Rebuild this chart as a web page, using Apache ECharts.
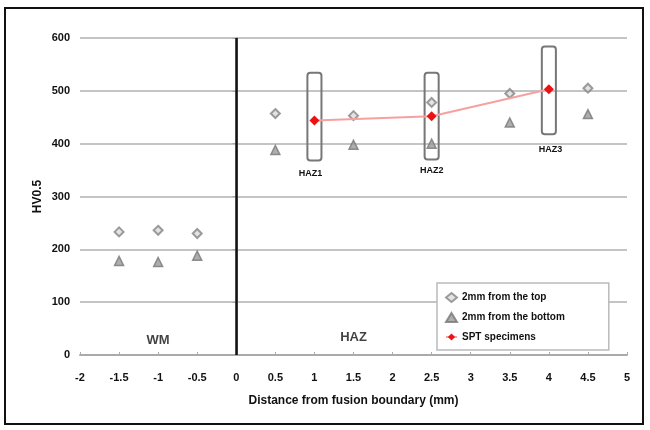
<!DOCTYPE html>
<html><head><meta charset="utf-8">
<script src="https://cdn.jsdelivr.net/npm/echarts@6/dist/echarts.min.js"></script>
<style>html,body{margin:0;padding:0;background:#fff}#c{width:650px;height:430px}</style>
</head><body><div id="c"></div>
<script>
var topX = [-1.5, -1, -0.5, 0.5, 1.5, 2.5, 3.5, 4.5];
var topY = [233, 236, 230, 457, 453, 478, 495, 505];
var botX = [-1.5, -1, -0.5, 0.5, 1.5, 2.5, 3.5, 4.5];
var botY = [178, 176, 188, 388, 398, 400, 440, 456];
var sptX = [1, 2.5, 4];
var sptY = [444, 452, 503];
var boxX = [1, 2.5, 4];
var boxLow = [368, 370, 418];
var boxHigh = [534, 534, 584];
var boxNames = ['HAZ1', 'HAZ2', 'HAZ3'];
var boxLabelX = [0.95, 2.5, 4.02];
var boxLabelY = [344, 350, 388];
var zoneNames = ['WM', 'HAZ'];
var zoneX = [-1, 1.5];
var zoneY = [28, 33];

function pairs(xs, ys) { return xs.map(function (x, i) { return [x, ys[i]]; }); }

var chart = echarts.init(document.getElementById('c'));
var F = 'Liberation Sans, Arial, sans-serif';
chart.setOption({
  animation: false,
  backgroundColor: '#fff',
  textStyle: { fontFamily: F },
  graphic: [{ type: 'rect', shape: { x: 5, y: 8, width: 638, height: 416 }, style: { fill: 'none', stroke: '#111', lineWidth: 2 }, z: 100 }],
  grid: { left: 80, right: 23, top: 38, bottom: 75 },
  legend: {
    orient: 'vertical', left: 437, top: 283,
    data: [
      { name: '2mm from the top', icon: 'diamond' },
      { name: '2mm from the bottom', icon: 'triangle' },
      { name: 'SPT specimens' }
    ],
    backgroundColor: '#fff', borderColor: '#bbb', borderWidth: 1.5,
    padding: [9, 44, 8, 8], itemGap: 9, itemWidth: 11, itemHeight: 9,
    textStyle: { fontSize: 10, fontWeight: 'bold', color: '#111', fontFamily: F }
  },
  xAxis: {
    type: 'value', min: -2, max: 5, interval: 0.5,
    name: 'Distance from fusion boundary (mm)', nameLocation: 'middle', nameGap: 40,
    nameTextStyle: { fontSize: 12, fontWeight: 'bold', color: '#111' },
    axisLine: { lineStyle: { color: '#aaa', width: 2 } },
    axisTick: { show: true, inside: true, length: 3, lineStyle: { color: '#aaa' } },
    axisLabel: { fontSize: 11, fontWeight: 'bold', color: '#111', margin: 17 },
    splitLine: { show: false }
  },
  yAxis: {
    type: 'value', min: 0, max: 600, interval: 100,
    name: 'HV0.5', nameLocation: 'middle', nameGap: 36, nameMoveOverlap: false,
    nameTextStyle: { fontSize: 12, fontWeight: 'bold', color: '#111' },
    axisLine: { show: true, lineStyle: { color: '#aaa', width: 2 } },
    axisTick: { show: true, length: 4, lineStyle: { color: '#aaa' } },
    axisLabel: { fontSize: 11, fontWeight: 'bold', color: '#111', margin: 10 },
    splitLine: { lineStyle: { color: '#c4c4c4', width: 2 } }
  },
  series: [
    {
      name: 'boxes', type: 'custom', z: 3,
      data: boxX.map(function (x, i) { return [x, boxLow[i], boxHigh[i], boxLabelX[i], boxLabelY[i], i]; }),
      renderItem: function (params, api) {
        var p1 = api.coord([api.value(0) - 0.09, api.value(2)]);
        var p2 = api.coord([api.value(0) + 0.09, api.value(1)]);
        var lp = api.coord([api.value(3), api.value(4)]);
        return { type: 'group', children: [
          { type: 'rect', shape: { x: p1[0], y: p1[1], width: p2[0] - p1[0], height: p2[1] - p1[1], r: 3 },
            style: { fill: 'none', stroke: '#777', lineWidth: 2 } },
          { type: 'text', x: lp[0], y: lp[1],
            style: { text: boxNames[api.value(5)], fill: '#111', font: 'bold 9px ' + F, align: 'center', verticalAlign: 'middle' } }
        ] };
      }
    },
    {
      name: '2mm from the top', type: 'scatter', symbol: 'diamond', symbolSize: 9, z: 2,
      itemStyle: { color: '#dcdcdc', borderColor: '#858585', borderWidth: 2 },
      data: pairs(topX, topY)
    },
    {
      name: '2mm from the bottom', type: 'scatter', symbol: 'triangle', symbolSize: 9, z: 2,
      itemStyle: { color: '#9a9a9a', borderColor: '#777', borderWidth: 1.5 },
      data: pairs(botX, botY),
      markLine: {
        silent: true, symbol: 'none', label: { show: false },
        lineStyle: { color: '#111', width: 2.5, type: 'solid' },
        data: [{ xAxis: 0 }]
      }
    },
    {
      name: 'SPT specimens', type: 'line', symbol: 'diamond', symbolSize: 10, z: 4,
      itemStyle: { color: '#ee1111' },
      lineStyle: { color: '#f7a0a0', width: 2 },
      data: pairs(sptX, sptY)
    },
    {
      name: 'zones', type: 'scatter', symbolSize: 0, z: 5,
      data: zoneX.map(function (x, i) { return { value: [x, zoneY[i]], name: zoneNames[i] }; }),
      label: { show: true, position: 'inside', formatter: '{b}', fontSize: 13, fontWeight: 'bold', color: '#111' }
    }
  ]
});
</script></body></html>
